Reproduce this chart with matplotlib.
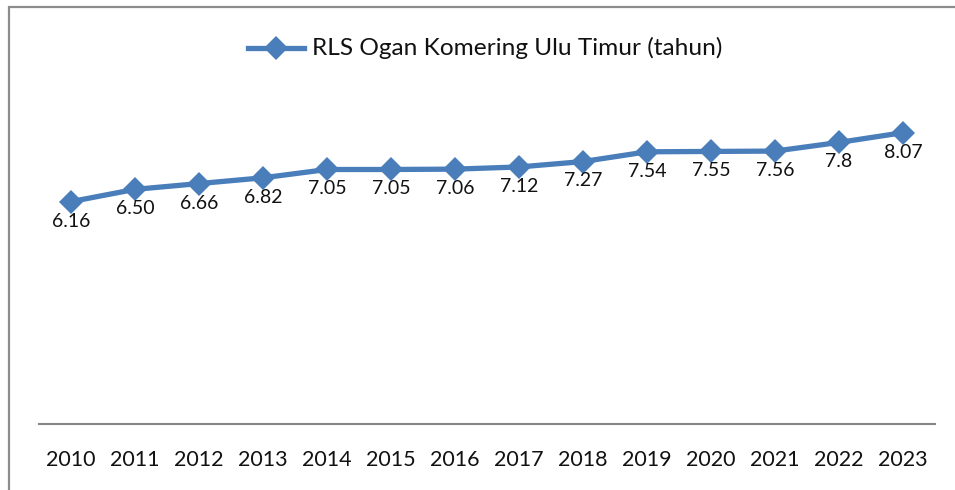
import matplotlib
matplotlib.use('Agg')
import matplotlib.pyplot as plt
from matplotlib.patches import Rectangle
from matplotlib.lines import Line2D

plt.rcParams['font.family'] = ['Lato', 'DejaVu Sans']

years = ['2010', '2011', '2012', '2013', '2014', '2015', '2016',
         '2017', '2018', '2019', '2020', '2021', '2022', '2023']
rls_labels = ['6.16', '6.50', '6.66', '6.82', '7.05', '7.05', '7.06',
              '7.12', '7.27', '7.54', '7.55', '7.56', '7.8', '8.07']
rls = [float(s) for s in rls_labels]
series_name = 'RLS Ogan Komering Ulu Timur (tahun)'

blue = '#4a7ebb'
W, H = 955, 490

fig = plt.figure(figsize=(W / 100, H / 100), dpi=100)
ax = fig.add_axes([39 / W, 1 - 424 / H, (935 - 39) / W, (424 - 63) / H])

x = list(range(len(years)))
ax.plot(x, rls, color=blue, lw=3.8, marker='D', markersize=12,
        markeredgewidth=0, solid_joinstyle='round', zorder=3)

for xi, v, s in zip(x, rls, rls_labels):
    ax.annotate(s, (xi, v), xytext=(0, -14), textcoords='offset points',
                ha='center', va='center', fontsize=14, color='#111111')

ax.set_xlim(-0.5, len(years) - 0.5)
ax.set_ylim(0, 10)
ax.set_xticks(x)
ax.set_xticklabels(years, fontsize=15.5, color='#111111')
ax.tick_params(axis='x', length=0, pad=19)
ax.set_yticks([])
for side in ['left', 'right', 'top']:
    ax.spines[side].set_visible(False)
ax.spines['bottom'].set_color('#868686')
ax.spines['bottom'].set_linewidth(1.5)

# legend drawn by hand at the top
fig.add_artist(Line2D([248 / W, 304 / W], [1 - 48 / H, 1 - 48 / H], color=blue,
                      lw=3.8, transform=fig.transFigure))
fig.add_artist(Line2D([276 / W], [1 - 48 / H], color=blue, lw=0, marker='D',
                      markersize=12, markeredgewidth=0, transform=fig.transFigure))
fig.text(312 / W, 1 - 48 / H, series_name, fontsize=17.6, va='center', ha='left',
         color='#111111')

# chart frame, cut off at the right and bottom edges
fig.add_artist(Rectangle((9 / W, -0.1), 1.2, 1.1 - 7 / H, transform=fig.transFigure,
                         fill=False, edgecolor='#8c8c8c', lw=1.6))

fig.savefig('out.png', dpi=100)
